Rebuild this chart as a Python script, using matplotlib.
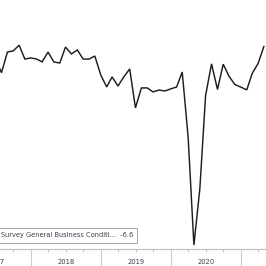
import datetime as dt
import matplotlib
matplotlib.use('Agg')
import matplotlib.pyplot as plt
import matplotlib.dates as mdates
from matplotlib.patches import Rectangle

# Empire State Manufacturing Survey, General Business Conditions (monthly)
months = ['2017-06', '2017-07', '2017-08', '2017-09', '2017-10', '2017-11', '2017-12',
          '2018-01', '2018-02', '2018-03', '2018-04', '2018-05', '2018-06',
          '2018-07', '2018-08', '2018-09', '2018-10', '2018-11', '2018-12',
          '2019-01', '2019-02', '2019-03', '2019-04', '2019-05', '2019-06',
          '2019-07', '2019-08', '2019-09', '2019-10', '2019-11', '2019-12',
          '2020-01', '2020-02', '2020-03', '2020-04', '2020-05', '2020-06',
          '2020-07', '2020-08', '2020-09', '2020-10', '2020-11', '2020-12',
          '2021-01', '2021-02', '2021-03', '2021-04']
values = [19.8, 12.5, 23.4, 24.0, 27.0, 19.7, 20.3,
          19.7, 18.2, 23.4, 18.2, 17.6, 26.0,
          22.4, 24.5, 19.7, 19.7, 21.3, 11.3,
          5.0, 10.3, 5.5, 10.3, 14.5, -6.0,
          4.5, 4.5, 2.4, 3.4, 2.9, 4.0,
          5.0, 12.9, -21.5, -78.2, -48.5, 0.5,
          17.2, 3.7, 17.0, 10.5, 6.3, 4.9,
          3.5, 12.1, 17.4, 26.3]
years = [2017, 2018, 2019, 2020, 2021]
year_labels = ['2017', '2018', '2019', '2020', '']
legend_text = 'Survey General Business Conditi...  -6.6'


def month_end(s):
    y, m = int(s[:4]), int(s[5:])
    first_next = dt.date(y + m // 12, m % 12 + 1, 1)
    return first_next - dt.timedelta(days=1)


dates = [month_end(m) for m in months]

fig = plt.figure(figsize=(2.66, 2.66), dpi=100)
ax = fig.add_axes([0, 17 / 266, 1, 249 / 266])
ax.plot(dates, values, color='#1e1e1e', linewidth=1.05, solid_joinstyle='miter')

x0 = mdates.date2num(dt.date(2018, 1, 1))
px_per_day = 70 / 365.25
ax.set_xlim(x0 - 31 / px_per_day, x0 + 235 / px_per_day)
ax.set_ylim(-80.3, 50.8)

for s in ['top', 'right', 'left']:
    ax.spines[s].set_visible(False)
ax.spines['bottom'].set_color('#b8bcc4')
ax.spines['bottom'].set_linewidth(0.8)
ax.set_yticks([])

# quarter ticks
ax.xaxis.set_major_locator(mdates.MonthLocator(bymonth=[4, 7, 10]))
ax.tick_params(axis='x', which='major', length=2.5, width=0.6, color='#b8bcc4',
               labelbottom=False)

# year separators and labels
tr = ax.get_xaxis_transform()
for yr, lab in zip(years, year_labels):
    xs = mdates.date2num(dt.date(yr, 1, 1))
    ax.plot([xs, xs], [0, -17 / 249], transform=tr, color='#c8ccd6',
            linewidth=0.8, clip_on=False)
    if lab:
        xm = mdates.date2num(dt.date(yr, 7, 2))
        ax.text(xm, -13 / 249, lab, transform=tr, ha='center', va='center',
                fontsize=4.9, color='#3a3f4a', clip_on=False)

# legend box
ax.add_patch(Rectangle((-0.05, 6 / 249), 0.05 + 137 / 266, 15 / 249,
                       transform=ax.transAxes, facecolor='white',
                       edgecolor='#a0a4ac', linewidth=0.7, zorder=5))
ax.text(1 / 266, 13.5 / 249, legend_text, transform=ax.transAxes,
        ha='left', va='center', fontsize=4.8, color='#3a3f4a', zorder=6)

fig.savefig('out.png', dpi=100)
